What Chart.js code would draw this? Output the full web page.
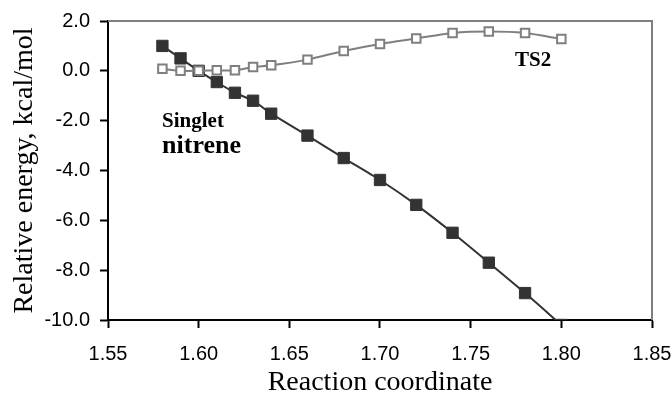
<!DOCTYPE html>
<html>
<head>
<meta charset="utf-8">
<script src="https://cdn.jsdelivr.net/npm/chart.js@4"></script>
<style>
  html, body { margin: 0; padding: 0; background: #fff; }
  #wrap { width: 672px; height: 394px; position: relative; }
</style>
</head>
<body>
<div id="wrap"><canvas id="chart"></canvas></div>
<script>
// reaction coordinate values for each computed point
const singletX = [1.58, 1.59, 1.60, 1.61, 1.62, 1.63, 1.64, 1.66, 1.68, 1.70, 1.72, 1.74, 1.76, 1.78, 1.80];
const singletY = [1.0, 0.5, 0.0, -0.45, -0.88, -1.2, -1.72, -2.6, -3.5, -4.38, -5.38, -6.5, -7.7, -8.92, -10.2];
const ts2X = [1.58, 1.59, 1.60, 1.61, 1.62, 1.63, 1.64, 1.66, 1.68, 1.70, 1.72, 1.74, 1.76, 1.78, 1.80];
const ts2Y = [0.08, 0.0, 0.0, 0.02, 0.02, 0.15, 0.22, 0.45, 0.8, 1.08, 1.3, 1.52, 1.58, 1.52, 1.28];

const xTicks = [1.55, 1.60, 1.65, 1.70, 1.75, 1.80, 1.85];
const yTicks = [2, 0, -2, -4, -6, -8, -10];

const DARK = '#333333';
const GRAY = '#7f7f7f';
const SERIF = '"Liberation Serif", "Times New Roman", serif';
const SANS = '"Liberation Sans", Arial, sans-serif';

function pts(xs, ys) {
  return xs.map((x, i) => ({ x: x, y: ys[i] }));
}

// gray frame on top/right plus the text labels inside the plot
const framePlugin = {
  id: 'frame',
  afterDraw(chart) {
    const { ctx, chartArea: a, scales } = chart;
    ctx.save();
    ctx.strokeStyle = GRAY;
    ctx.lineWidth = 2;
    ctx.beginPath();
    ctx.moveTo(a.left, a.top);
    ctx.lineTo(a.right, a.top);
    ctx.lineTo(a.right, a.bottom);
    ctx.stroke();

    ctx.fillStyle = '#000';
    ctx.textBaseline = 'alphabetic';
    ctx.textAlign = 'left';
    ctx.font = 'bold 21px ' + SERIF;
    ctx.fillText('Singlet', scales.x.getPixelForValue(1.5798), scales.y.getPixelForValue(-2.25));
    ctx.font = 'bold 26px ' + SERIF;
    ctx.fillText('nitrene', scales.x.getPixelForValue(1.5798), scales.y.getPixelForValue(-3.3));
    ctx.textAlign = 'center';
    ctx.font = 'bold 21px ' + SERIF;
    ctx.fillText('TS2', scales.x.getPixelForValue(1.7844), scales.y.getPixelForValue(0.19));
    ctx.restore();
  }
};

new Chart(document.getElementById('chart'), {
  type: 'scatter',
  data: {
    datasets: [
      {
        label: 'TS2',
        data: pts(ts2X, ts2Y),
        showLine: true,
        borderColor: GRAY,
        borderWidth: 2,
        tension: 0.25,
        pointStyle: 'rect',
        pointRadius: 6,
        pointBorderWidth: 2,
        pointBackgroundColor: '#fff',
        pointBorderColor: GRAY
      },
      {
        label: 'Singlet nitrene',
        data: pts(singletX, singletY),
        showLine: true,
        borderColor: DARK,
        borderWidth: 2,
        tension: 0.25,
        clip: 0,
        pointStyle: 'rect',
        pointRadius: 8,
        pointBorderWidth: 1,
        pointBackgroundColor: DARK,
        pointBorderColor: DARK
      }
    ]
  },
  options: {
    responsive: true,
    maintainAspectRatio: false,
    animation: false,
    layout: { padding: { top: 21, right: 20, left: 0, bottom: 0 } },
    plugins: {
      legend: { display: false },
      tooltip: { enabled: false }
    },
    scales: {
      x: {
        type: 'linear',
        min: 1.55,
        max: 1.85,
        afterBuildTicks(scale) { scale.ticks = xTicks.map(v => ({ value: v })); },
        afterFit(scale) {
          scale.height = 74;
          scale.paddingLeft = 0;
          scale.paddingRight = 0;
        },
        border: { color: '#000', width: 2 },
        grid: { drawOnChartArea: false, color: '#000', tickLength: 8, tickWidth: 2 },
        ticks: {
          color: '#000',
          padding: 14,
          maxRotation: 0,
          font: { family: SANS, size: 20 },
          callback: v => v.toFixed(2)
        },
        title: {
          display: true,
          text: 'Reaction coordinate',
          color: '#000',
          padding: { top: 0, bottom: 0 },
          font: { family: SERIF, size: 28, lineHeight: 0.8 }
        }
      },
      y: {
        min: -10,
        max: 2,
        afterBuildTicks(scale) { scale.ticks = yTicks.map(v => ({ value: v })); },
        afterFit(scale) {
          scale.width = 108;
          scale.paddingTop = 0;
          scale.paddingBottom = 0;
        },
        border: { color: '#000', width: 2 },
        grid: { drawOnChartArea: false, color: '#000', tickLength: 8, tickWidth: 2 },
        ticks: {
          color: '#000',
          padding: 10,
          font: { family: SANS, size: 20 },
          callback: v => v.toFixed(1)
        },
        title: {
          display: true,
          text: 'Relative energy, kcal/mol',
          color: '#000',
          padding: { top: 8, bottom: 0 },
          font: { family: SERIF, size: 28 }
        }
      }
    }
  },
  plugins: [framePlugin]
});
</script>
</body>
</html>
